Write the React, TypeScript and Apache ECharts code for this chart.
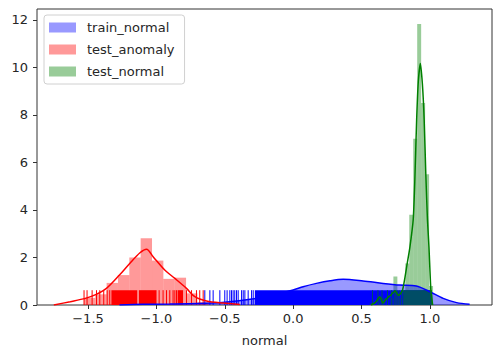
import React, { useEffect, useRef } from "react";
import * as echarts from "echarts";

// ---- tick labels / legend ----
const xTicks = [-1.5, -1.0, -0.5, 0.0, 0.5, 1.0];
const yTicks = [0, 2, 4, 6, 8, 10, 12];
const seriesNames = ["train_normal", "test_anomaly", "test_normal"];

// ---- test_anomaly (red) histogram ----
const redBinEdges = [-1.53, -1.447, -1.364, -1.281, -1.198, -1.115, -1.032, -0.949, -0.866, -0.783, -0.7, -0.617];
const redBinHeights = [0.3, 0.45, 0.93, 1.26, 2.0, 2.81, 1.87, 1.1, 1.15, 0.49, 0.12];
// red KDE
const redKdeX = [-1.75, -1.63, -1.52, -1.44, -1.365, -1.27, -1.195, -1.12, -1.072, -1.024, -0.939, -0.865, -0.78, -0.719, -0.634, -0.512, -0.39];
const redKdeY = [0.0, 0.14, 0.28, 0.45, 0.7, 1.26, 1.75, 2.2, 2.35, 2.03, 1.47, 1.12, 0.7, 0.35, 0.17, 0.08, 0.02];
// red rug
const redRugPoints = [-1.529, -1.507, -1.47, -1.438, -1.414, -1.385, -1.36, -1.341, -0.98, -0.951, -0.926, -0.902, -0.878, -0.865, -0.853, -0.78, -0.743, -0.707, -0.683, -0.658];
const redRugBands = [[-1.329, -1.14], [-1.128, -0.999], [-0.845, -0.805]];

// ---- train_normal (blue) ----
const blueKdeX = [-1.27, -1.1, -0.9, -0.7, -0.5, -0.3, -0.15, 0.0, 0.073, 0.17, 0.27, 0.366, 0.512, 0.658, 0.78, 0.9, 1.0, 1.097, 1.195, 1.29];
const blueKdeY = [0.0, 0.03, 0.04, 0.06, 0.12, 0.25, 0.42, 0.63, 0.77, 0.91, 1.02, 1.08, 1.01, 0.91, 0.84, 0.8, 0.56, 0.28, 0.1, 0.03];
const blueRugPoints = [-0.646, -0.609, -0.585, -0.536, -0.5, -0.483, -0.463, -0.451, -0.439, -0.427, -0.414, -0.402, -0.377, -0.365, -0.353, -0.329, -0.304, -0.292];
const blueRugBands = [[-0.28, 1.0]];

// ---- test_normal (green) ----
const greenBinEdges = [0.559, 0.588, 0.617, 0.646, 0.675, 0.704, 0.733, 0.762, 0.791, 0.82, 0.849, 0.878, 0.907, 0.936, 0.965, 0.994, 1.023];
const greenBinHeights = [0.1, 0, 0.3, 0.3, 0, 0.3, 1.2, 0.3, 0.6, 1.75, 3.8, 7.0, 11.83, 8.5, 5.5, 0.8];
const greenKdeX = [0.57, 0.6, 0.634, 0.656, 0.68, 0.72, 0.745, 0.77, 0.8, 0.834, 0.854, 0.878, 0.89, 0.903, 0.915, 0.93, 0.945, 0.958, 0.97, 0.982, 0.993, 1.007, 1.02];
const greenKdeY = [0.0, 0.1, 0.35, 0.08, 0.25, 0.45, 0.6, 0.4, 0.63, 1.75, 2.45, 3.6, 5.3, 7.8, 9.4, 10.17, 9.3, 7.8, 5.5, 3.6, 2.45, 0.63, 0.0];
const greenRugPoints = [0.58, 0.62, 0.65, 0.69, 0.72, 0.744, 0.76, 0.775, 0.793];
const greenRugBands = [[0.805, 1.015]];

const FONT = "DejaVu Sans";
const TXT = "#262626";

function binsToData(edges: number[], heights: number[]) {
  const out: number[][] = [];
  for (let i = 0; i < heights.length; i++) {
    if (heights[i] > 0) out.push([edges[i], edges[i + 1], heights[i]]);
  }
  return out;
}
function zipXY(xs: number[], ys: number[]) {
  return xs.map((x, i) => [x, ys[i]]);
}
function rugData(points: number[], bands: number[][]) {
  return [...points.map((p) => [p, p]), ...bands.map((b) => [b[0], b[1]])];
}

const histRender = (fill: string) => (params: any, api: any) => {
  const x0 = api.value(0);
  const x1 = api.value(1);
  const h = api.value(2);
  const a = api.coord([x0, 0]);
  const b = api.coord([x1, h]);
  return {
    type: "rect",
    shape: { x: a[0], y: b[1], width: b[0] - a[0], height: a[1] - b[1] },
    style: { fill },
  };
};

const rugRender = (color: string) => (params: any, api: any) => {
  const x0 = api.value(0);
  const x1 = api.value(1);
  const p0 = api.coord([x0, 0]);
  const p1 = api.coord([x1, 0]);
  const h = params.coordSys.height * 0.05;
  if (x1 > x0) {
    return {
      type: "rect",
      shape: { x: p0[0], y: p0[1] - h, width: p1[0] - p0[0], height: h },
      style: { fill: color },
    };
  }
  return {
    type: "line",
    shape: { x1: p0[0], y1: p0[1], x2: p0[0], y2: p0[1] - h },
    style: { stroke: color, lineWidth: 1 },
  };
};

const fills = ["rgba(0,0,255,0.4)", "rgba(255,0,0,0.4)", "rgba(0,128,0,0.4)"];
const solids = ["#0000ff", "#ff0000", "#008000"];

export default function App() {
  const ref = useRef<HTMLDivElement>(null);
  useEffect(() => {
    document.body.style.margin = "0";
    if (!ref.current) return;
    const chart = echarts.init(ref.current, undefined, { renderer: "svg" });
    const fmt = (v: number) => v.toFixed(1).replace("-", "\u2212");
    const option: any = {
      animation: false,
      grid: {
        left: 37,
        top: 9,
        width: 455,
        height: 296,
        show: true,
        borderColor: "#333",
        borderWidth: 1,
        backgroundColor: "transparent",
      },
      xAxis: {
        type: "value",
        min: -1.873,
        max: 1.454,
        axisLine: { show: false, onZero: false },
        splitLine: { show: false },
        axisTick: { show: true, length: 4, lineStyle: { color: "#333" }, customValues: xTicks },
        axisLabel: {
          customValues: xTicks,
          formatter: fmt,
          fontSize: 13,
          color: TXT,
          fontFamily: FONT,
          margin: 7,
        },
        name: "normal",
        nameLocation: "middle",
        nameGap: 29,
        nameTextStyle: { fontSize: 13, color: TXT, fontFamily: FONT },
      },
      yAxis: {
        type: "value",
        min: 0,
        max: 12.46,
        position: "left",
        axisLine: { show: false, onZero: false },
        splitLine: { show: false },
        axisTick: { show: true, length: 4, lineStyle: { color: "#333" }, customValues: yTicks },
        axisLabel: {
          customValues: yTicks,
          formatter: (v: number) => String(v),
          fontSize: 13,
          color: TXT,
          fontFamily: FONT,
          margin: 9,
        },
      },
      legend: {
        left: 44,
        top: 15,
        orient: "vertical",
        itemWidth: 27,
        itemHeight: 10,
        itemGap: 9,
        padding: [6, 10, 6, 5],
        borderColor: "#d0d0d0",
        borderWidth: 1,
        borderRadius: 3,
        backgroundColor: "rgba(255,255,255,0.8)",
        selectedMode: false,
        textStyle: { fontSize: 13, color: TXT, fontFamily: FONT, padding: [0, 0, 0, 6] },
        data: seriesNames.map((n, i) => ({
          name: n,
          icon: "rect",
          itemStyle: { color: fills[i], borderWidth: 0 },
        })),
      },
      series: [
        {
          name: "train_normal",
          type: "line",
          data: zipXY(blueKdeX, blueKdeY),
          smooth: 0.3,
          showSymbol: false,
          lineStyle: { width: 0 },
          itemStyle: { color: fills[0] },
          areaStyle: { color: fills[0], opacity: 1 },
        },
        {
          name: "train_normal_kde",
          type: "line",
          data: zipXY(blueKdeX, blueKdeY),
          smooth: 0.3,
          showSymbol: false,
          lineStyle: { width: 1.5, color: solids[0] },
          itemStyle: { color: solids[0] },
        },
        {
          name: "train_normal_rug",
          type: "custom",
          renderItem: rugRender(solids[0]),
          encode: { x: [0, 1] },
          data: rugData(blueRugPoints, blueRugBands),
        },
        {
          name: "test_anomaly",
          type: "custom",
          renderItem: histRender(fills[1]),
          encode: { x: [0, 1], y: 2 },
          itemStyle: { color: fills[1] },
          data: binsToData(redBinEdges, redBinHeights),
        },
        {
          name: "test_anomaly_kde",
          type: "line",
          data: zipXY(redKdeX, redKdeY),
          smooth: 0.3,
          showSymbol: false,
          lineStyle: { width: 1.5, color: solids[1] },
          itemStyle: { color: solids[1] },
        },
        {
          name: "test_anomaly_rug",
          type: "custom",
          renderItem: rugRender(solids[1]),
          encode: { x: [0, 1] },
          data: rugData(redRugPoints, redRugBands),
        },
        {
          name: "test_normal",
          type: "custom",
          renderItem: histRender(fills[2]),
          encode: { x: [0, 1], y: 2 },
          itemStyle: { color: fills[2] },
          data: binsToData(greenBinEdges, greenBinHeights),
        },
        {
          name: "test_normal_kde",
          type: "line",
          data: zipXY(greenKdeX, greenKdeY),
          smooth: 0.2,
          showSymbol: false,
          lineStyle: { width: 1.5, color: solids[2] },
          itemStyle: { color: solids[2] },
        },
        {
          name: "test_normal_rug",
          type: "custom",
          renderItem: rugRender(solids[2]),
          encode: { x: [0, 1] },
          data: rugData(greenRugPoints, greenRugBands),
        },
      ],
    };
    chart.setOption(option);
    return () => chart.dispose();
  }, []);
  return <div ref={ref} style={{ width: 500, height: 356 }} />;
}
